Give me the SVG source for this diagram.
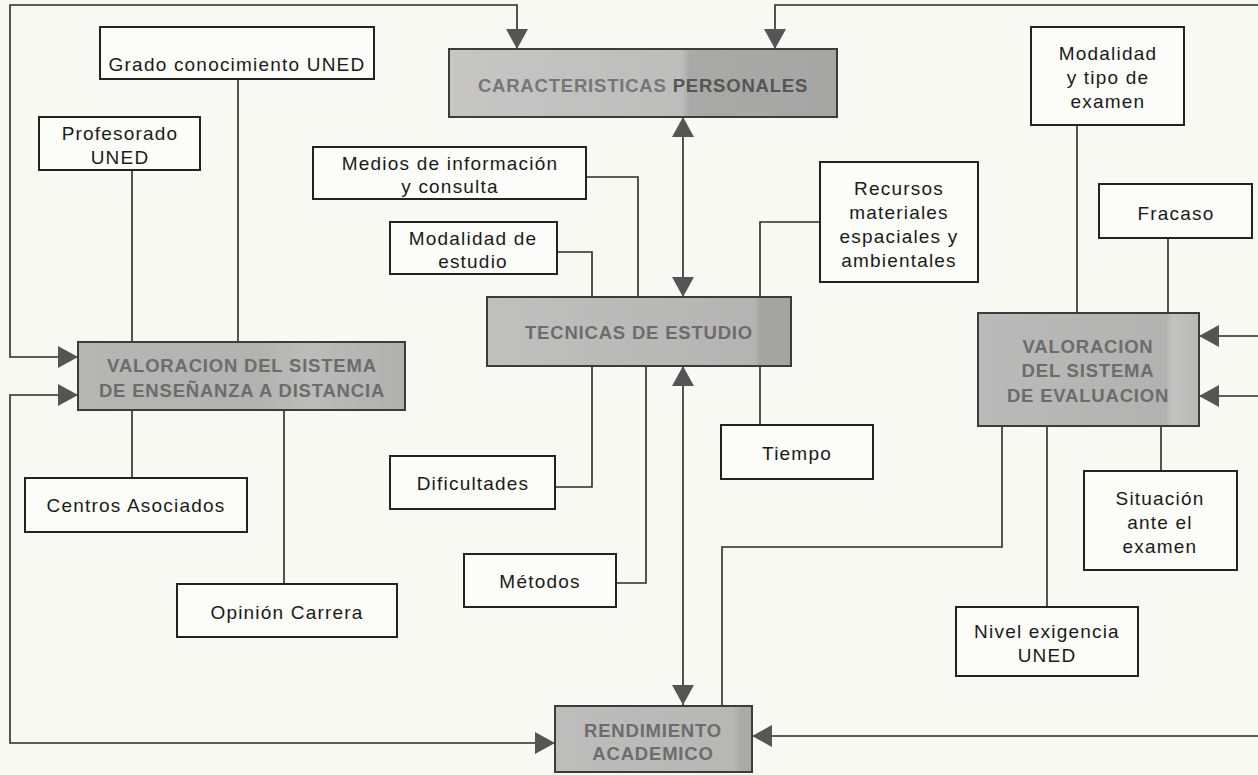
<svg xmlns="http://www.w3.org/2000/svg" width="1258" height="775" viewBox="0 0 1258 775">
<defs>
<style>
.box{fill:#fcfcf8;stroke:#222;stroke-width:2}
.gbox{stroke:#3c3c3c;stroke-width:2}
.t{font-family:"Liberation Sans",Arial,sans-serif;font-size:19px;letter-spacing:1.2px;fill:#1a1a1a;text-anchor:middle}
.b{font-family:"Liberation Sans",Arial,sans-serif;font-size:18.5px;font-weight:bold;letter-spacing:0.8px;fill:#6c6c6c;text-anchor:middle}
.c{fill:none;stroke:#2a2a2a;stroke-width:1.6}
</style>
<marker id="ah" markerUnits="userSpaceOnUse" markerWidth="21" markerHeight="22" refX="20" refY="11" orient="auto-start-reverse" viewBox="0 0 21 22">
<path d="M0,0 L20,11 L0,22 z" fill="#555"/>
</marker>
<linearGradient id="gCP" x1="0" x2="1" y1="0" y2="0">
<stop offset="0" stop-color="#c6c6c4"/><stop offset="0.6" stop-color="#bdbdbb"/><stop offset="0.62" stop-color="#a9a9a7"/><stop offset="1" stop-color="#a6a6a4"/>
</linearGradient>
<linearGradient id="gTE" x1="0" x2="1" y1="0" y2="0">
<stop offset="0" stop-color="#c0c0be"/><stop offset="0.88" stop-color="#b4b4b2"/><stop offset="0.9" stop-color="#a4a4a2"/><stop offset="1" stop-color="#a4a4a2"/>
</linearGradient>
<linearGradient id="gVS" x1="0" x2="1" y1="0" y2="0">
<stop offset="0" stop-color="#b6b6b4"/><stop offset="0.55" stop-color="#b2b2b0"/><stop offset="0.7" stop-color="#bcbcba"/><stop offset="1" stop-color="#b0b0ae"/>
</linearGradient>
<linearGradient id="gVE" x1="0" x2="1" y1="0" y2="0">
<stop offset="0" stop-color="#bababa"/><stop offset="0.85" stop-color="#b2b2b0"/><stop offset="0.88" stop-color="#c2c2c0"/><stop offset="1" stop-color="#b8b8b6"/>
</linearGradient>
<linearGradient id="gRA" x1="0" x2="1" y1="0" y2="0">
<stop offset="0" stop-color="#bdbdbb"/><stop offset="0.9" stop-color="#b7b7b5"/><stop offset="0.95" stop-color="#a9a9a7"/><stop offset="1" stop-color="#a9a9a7"/>
</linearGradient>
</defs>
<rect x="0" y="0" width="1258" height="775" fill="#f9f9f4"/>

<g id="connectors">
<path class="c" d="M78,357 H10 V5 H517 V49" marker-start="url(#ah)" marker-end="url(#ah)"/>
<path class="c" d="M78,395 H10 V743 H555" marker-start="url(#ah)" marker-end="url(#ah)"/>
<path class="c" d="M775,49 V5 H1258" marker-start="url(#ah)"/>
<path class="c" d="M1258,336 H1199" marker-end="url(#ah)"/>
<path class="c" d="M1258,396 H1199" marker-end="url(#ah)"/>
<path class="c" d="M1258,736 H752" marker-end="url(#ah)"/>
<path class="c" d="M683,117 V297" marker-start="url(#ah)" marker-end="url(#ah)"/>
<path class="c" d="M683,366 V705" marker-start="url(#ah)" marker-end="url(#ah)"/>
<path class="c" d="M722,706 V547 H1002 V426"/>
<path class="c" d="M132,170 V342"/>
<path class="c" d="M238,79 V342"/>
<path class="c" d="M132,410 V478"/>
<path class="c" d="M284,410 V584"/>
<path class="c" d="M586,177 H638 V297"/>
<path class="c" d="M557,252 H592 V297"/>
<path class="c" d="M820,222 H760 V297"/>
<path class="c" d="M760,366 V425"/>
<path class="c" d="M592,366 V487 H555"/>
<path class="c" d="M646,366 V583 H616"/>
<path class="c" d="M1077,125 V313"/>
<path class="c" d="M1168,238 V313"/>
<path class="c" d="M1047,426 V607"/>
<path class="c" d="M1161,426 V471"/>
</g>

<g id="n-cp">
<rect class="gbox" x="449" y="49" width="388" height="68" fill="url(#gCP)"/>
<text class="b" x="643" y="92"><tspan fill="#767676">CARACTERISTICAS </tspan><tspan fill="#555">PERSONALES</tspan></text>
</g>
<g id="n-te">
<rect class="gbox" x="487" y="297" width="304" height="69" fill="url(#gTE)"/>
<text class="b" x="639" y="339" fill="#616161">TECNICAS DE ESTUDIO</text>
</g>
<g id="n-vsed">
<rect class="gbox" x="78" y="342" width="327" height="68" fill="url(#gVS)"/>
<text class="b" x="242" y="372">VALORACION DEL SISTEMA</text>
<text class="b" x="242" y="397">DE ENSEÑANZA A DISTANCIA</text>
</g>
<g id="n-vse">
<rect class="gbox" x="978" y="313" width="221" height="113" fill="url(#gVE)"/>
<text class="b" x="1088" y="353">VALORACION</text>
<text class="b" x="1088" y="377">DEL SISTEMA</text>
<text class="b" x="1088" y="402">DE EVALUACION</text>
</g>
<g id="n-ra">
<rect class="gbox" x="555" y="706" width="197" height="66" fill="url(#gRA)"/>
<text class="b" x="653" y="737">RENDIMIENTO</text>
<text class="b" x="653" y="760">ACADEMICO</text>
</g>

<g id="n-grado">
<rect class="box" x="100" y="27" width="274" height="52"/>
<text class="t" x="237" y="71">Grado conocimiento UNED</text>
</g>
<g id="n-prof">
<rect class="box" x="39" y="117" width="161" height="53"/>
<text class="t" x="120" y="140">Profesorado</text>
<text class="t" x="120" y="164">UNED</text>
</g>
<g id="n-medios">
<rect class="box" x="313" y="147" width="273" height="52"/>
<text class="t" x="450" y="170">Medios de información</text>
<text class="t" x="450" y="193">y consulta</text>
</g>
<g id="n-modest">
<rect class="box" x="390" y="222" width="167" height="52"/>
<text class="t" x="473" y="245">Modalidad de</text>
<text class="t" x="473" y="268">estudio</text>
</g>
<g id="n-recursos">
<rect class="box" x="820" y="162" width="158" height="120"/>
<text class="t" x="899" y="195">Recursos</text>
<text class="t" x="899" y="219">materiales</text>
<text class="t" x="899" y="243">espaciales y</text>
<text class="t" x="899" y="267">ambientales</text>
</g>
<g id="n-modexam">
<rect class="box" x="1031" y="27" width="153" height="98"/>
<text class="t" x="1108" y="60">Modalidad</text>
<text class="t" x="1108" y="84">y tipo de</text>
<text class="t" x="1108" y="108">examen</text>
</g>
<g id="n-fracaso">
<rect class="box" x="1099" y="184" width="153" height="54"/>
<text class="t" x="1176" y="220">Fracaso</text>
</g>
<g id="n-tiempo">
<rect class="box" x="721" y="425" width="152" height="54"/>
<text class="t" x="797" y="460">Tiempo</text>
</g>
<g id="n-dific">
<rect class="box" x="390" y="456" width="165" height="53"/>
<text class="t" x="473" y="490">Dificultades</text>
</g>
<g id="n-metodos">
<rect class="box" x="464" y="554" width="152" height="53"/>
<text class="t" x="540" y="588">Métodos</text>
</g>
<g id="n-centros">
<rect class="box" x="25" y="478" width="222" height="54"/>
<text class="t" x="136" y="512">Centros Asociados</text>
</g>
<g id="n-opinion">
<rect class="box" x="177" y="584" width="220" height="53"/>
<text class="t" x="287" y="619">Opinión Carrera</text>
</g>
<g id="n-nivel">
<rect class="box" x="956" y="607" width="182" height="69"/>
<text class="t" x="1047" y="638">Nivel exigencia</text>
<text class="t" x="1047" y="662">UNED</text>
</g>
<g id="n-situacion">
<rect class="box" x="1084" y="471" width="153" height="99"/>
<text class="t" x="1160" y="505">Situación</text>
<text class="t" x="1160" y="529">ante el</text>
<text class="t" x="1160" y="553">examen</text>
</g>
</svg>
